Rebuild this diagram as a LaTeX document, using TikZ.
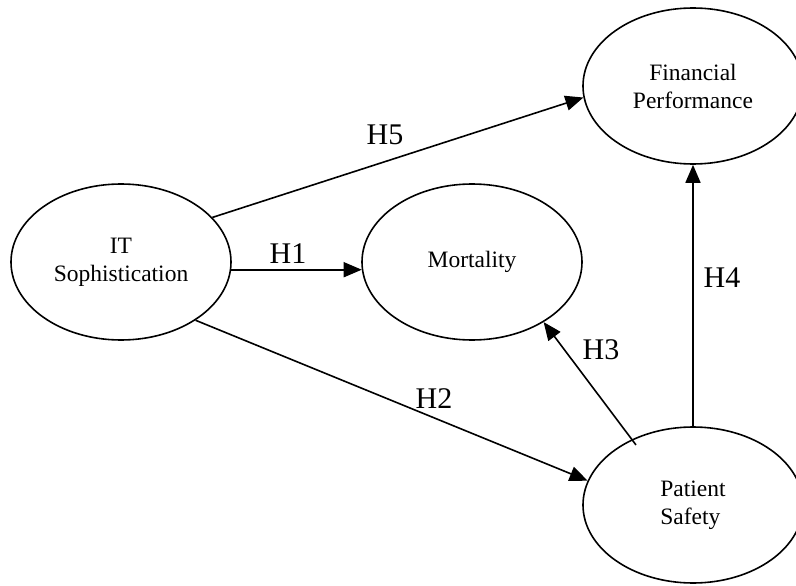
\documentclass[tikz,border=0pt]{standalone}
\usepackage{fontspec}
\setmainfont{Liberation Serif}
\usetikzlibrary{shapes.geometric,arrows.meta}
\begin{document}
\begin{tikzpicture}[x=1pt,y=-1pt,
  construct/.style={draw, line width=1.6pt, ellipse, minimum width=220pt,
    minimum height=156pt, inner sep=0pt, align=center,
    font=\fontsize{23.5}{28}\selectfont},
  link/.style={draw, line width=1.6pt, -{Triangle[length=18pt,width=15pt]}},
  hyp/.style={anchor=base, inner sep=0pt, font=\fontsize{30}{34}\selectfont}]
\useasboundingbox (0,0) rectangle (796,586);

% constructs
\node[construct] (it)  at (121,262) {IT\\Sophistication};
\node[construct] (mor) at (472,262) {Mortality};
\node[construct] (fin) at (693,86)  {Financial\\Performance};
\node[construct, align=left] (ps) at (693,505) {Patient\\Safety};

% hypothesised paths
\draw[link] (it.26)  -- (fin.186);
\draw[link] (it.-4)  -- (mor.184);
\draw[link] (it.-38) -- (ps.167);
\draw[link, shorten <=-7pt] (ps.133) -- (mor.-40);
\draw[link] (ps.north) -- (fin.south);

% path labels
\node[hyp] (h5) at (385,144) {H5};
\node[hyp] (h1) at (288,263) {H1};
\node[hyp] (h2) at (434,408) {H2};
\node[hyp] (h3) at (601,359) {H3};
\node[hyp] (h4) at (722,287) {H4};
\end{tikzpicture}
\end{document}
